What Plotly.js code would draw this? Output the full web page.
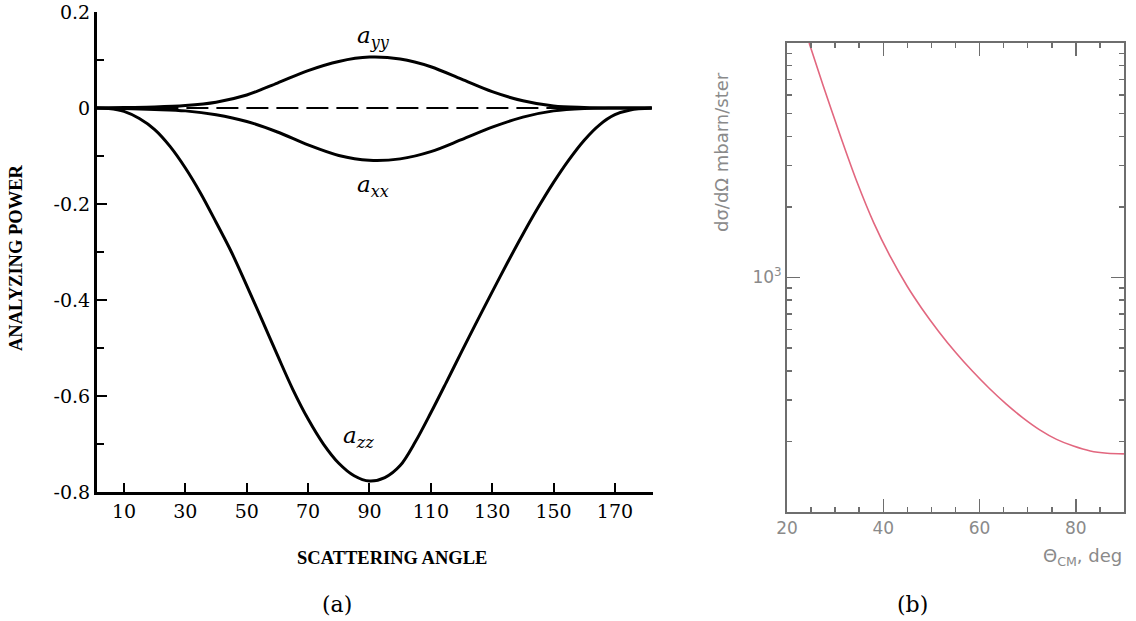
<!DOCTYPE html>
<html>
<head>
<meta charset="utf-8">
<script src="https://cdn.plot.ly/plotly-3.0.1.min.js"></script>
<style>html,body{margin:0;padding:0;background:#fff;}#chart{width:1136px;height:621px;}</style>
</head>
<body>
<div id="chart"></div>
<script>
// ---------- Panel (a): analyzing power vs scattering angle ----------
const angleA = [1, 10, 20, 30, 40, 50, 60, 70, 80, 90, 100, 110, 120, 130, 140, 150, 160, 170, 182];
const ayy    = [0, 0.001, 0.002, 0.005, 0.012, 0.027, 0.052, 0.078, 0.097, 0.106, 0.102, 0.086, 0.06, 0.034, 0.015, 0.004, 0.001, 0, 0];
const axx    = [0, -0.001, -0.003, -0.006, -0.014, -0.028, -0.05, -0.077, -0.099, -0.109, -0.106, -0.091, -0.066, -0.04, -0.019, -0.006, -0.001, 0, 0];

const angleZ = [1, 5, 10, 15, 20, 25, 30, 35, 40, 45, 50, 55, 60, 65, 70, 75, 80, 85, 90, 95, 100, 105, 110, 115, 120, 125, 130, 135, 140, 145, 150, 155, 160, 165, 170, 175, 182];
const azz    = [0, -0.001, -0.007, -0.022, -0.045, -0.08, -0.125, -0.178, -0.238, -0.3, -0.37, -0.442, -0.515, -0.586, -0.648, -0.7, -0.74, -0.766, -0.777, -0.77, -0.745, -0.695, -0.635, -0.572, -0.508, -0.445, -0.383, -0.322, -0.263, -0.207, -0.155, -0.108, -0.067, -0.035, -0.014, -0.004, 0];

const angleRef = [1, 160];
const refZero  = [0, 0];

const xTicksA     = [10, 30, 50, 70, 90, 110, 130, 150, 170];
const yTicksA     = [0.2, 0, -0.2, -0.4, -0.6, -0.8];
const yTickTextA  = ['0.2', '0', '-0.2', '-0.4', '-0.6', '-0.8'];
const yMinorA     = [0.1, -0.1, -0.3, -0.5, -0.7];

// ---------- Panel (b): cross section vs theta_cm ----------
const thetaB = [24.6, 27.5, 31, 34.5, 38, 41.5, 45, 48, 51.5, 55, 58.5, 62, 65.5, 69, 72.5, 76, 79.5, 83, 86.5, 90];
const sigmaB = [10000, 6590, 4062, 2567, 1715, 1223, 915, 738, 589, 480, 399, 337, 289, 252, 224, 204, 191, 182, 178, 177];

const xTicksB    = [20, 40, 60, 80];
const xMinorB    = [25, 30, 35, 45, 50, 55, 65, 70, 75, 85];
const yTicksB    = [1000];
const yTickTextB = ['10<sup>3</sup>'];
const yMinorB    = [200, 300, 400, 500, 600, 700, 800, 900, 2000, 3000, 4000, 5000, 6000, 7000, 8000, 9000];

const serif  = 'DejaVu Serif, serif';
const serif2 = 'Liberation Serif, Times New Roman, serif';
const sans   = 'DejaVu Sans, sans-serif';
const grey   = '#6e6e6e';

const traces = [
  {x: angleRef, y: refZero, mode: 'lines', line: {color: '#000', width: 2, dash: '22px,8px'}, xaxis: 'x', yaxis: 'y', hoverinfo: 'skip'},
  {x: angleA, y: ayy, mode: 'lines', line: {color: '#000', width: 3, shape: 'spline', smoothing: 0.9}, xaxis: 'x', yaxis: 'y', name: 'a_yy'},
  {x: angleA, y: axx, mode: 'lines', line: {color: '#000', width: 3, shape: 'spline', smoothing: 0.9}, xaxis: 'x', yaxis: 'y', name: 'a_xx'},
  {x: angleZ, y: azz, mode: 'lines', line: {color: '#000', width: 3, shape: 'spline', smoothing: 0.9}, xaxis: 'x', yaxis: 'y', name: 'a_zz'},
  {x: thetaB, y: sigmaB, mode: 'lines', line: {color: '#e2677f', width: 1.6, shape: 'spline', smoothing: 0.9}, xaxis: 'x2', yaxis: 'y2', name: 'dsigma'}
];

function note(x, y, text, font, extra) {
  return Object.assign({xref: 'paper', yref: 'paper', x: x / 1136, y: 1 - y / 621, text: text,
    showarrow: false, xanchor: 'center', yanchor: 'middle', font: font}, extra || {});
}

const layout = {
  width: 1136, height: 621,
  margin: {l: 0, r: 0, t: 0, b: 0},
  paper_bgcolor: '#fff', plot_bgcolor: '#fff',
  showlegend: false,
  xaxis: {
    domain: [0.0854, 0.5748], range: [1.2, 182.4], anchor: 'y',
    showline: true, linecolor: '#000', linewidth: 3,
    ticks: 'inside', ticklen: 9, tickwidth: 2, tickcolor: '#000',
    tickvals: xTicksA, ticktext: xTicksA.map(String),
    tickfont: {family: serif, size: 19, color: '#000'},
    showgrid: false, zeroline: false
  },
  yaxis: {
    domain: [0.2077, 0.9807], range: [-0.8, 0.2], anchor: 'x',
    showline: true, linecolor: '#000', linewidth: 3,
    ticks: 'inside', ticklen: 10, tickwidth: 2, tickcolor: '#000',
    tickvals: yTicksA, ticktext: yTickTextA,
    tickfont: {family: serif, size: 19, color: '#000'},
    minor: {tickvals: yMinorA, ticks: 'inside', ticklen: 7, tickwidth: 2, tickcolor: '#000', showgrid: false},
    showgrid: false, zeroline: false
  },
  xaxis2: {
    domain: [0.6928, 0.9894], range: [20, 90], anchor: 'y2',
    showline: true, mirror: 'ticks', linecolor: grey, linewidth: 2,
    ticks: 'inside', ticklen: 13, tickwidth: 1.5, tickcolor: grey,
    tickvals: xTicksB, ticktext: xTicksB.map(String),
    tickfont: {family: sans, size: 17, color: '#8a8a8a'},
    minor: {tickvals: xMinorB, ticks: 'inside', ticklen: 5, tickwidth: 1.5, tickcolor: grey, showgrid: false},
    showgrid: false, zeroline: false
  },
  yaxis2: {
    domain: [0.1755, 0.9308], type: 'log', range: [2, 4], anchor: 'x2',
    showline: true, mirror: 'ticks', linecolor: grey, linewidth: 2,
    ticks: 'inside', ticklen: 13, tickwidth: 1.5, tickcolor: grey,
    tickvals: yTicksB, ticktext: yTickTextB,
    tickfont: {family: sans, size: 17, color: '#8a8a8a'},
    minor: {tickvals: yMinorB, ticks: 'inside', ticklen: 5, tickwidth: 1.5, tickcolor: grey, showgrid: false},
    showgrid: false, zeroline: false
  },
  annotations: [
    note(373, 37, '<i>a</i><sub><i>yy</i></sub>', {family: serif, size: 23, color: '#000'}),
    note(373, 186, '<i>a</i><sub><i>xx</i></sub>', {family: serif, size: 23, color: '#000'}),
    note(358, 437, '<i>a</i><sub><i>zz</i></sub>', {family: serif, size: 23, color: '#000'}),
    note(392, 558, '<b>SCATTERING ANGLE</b>', {family: serif2, size: 18.5, color: '#000'}),
    note(16, 258, '<b>ANALYZING POWER</b>', {family: serif2, size: 18.5, color: '#000'}, {textangle: -90}),
    note(337, 604, '(a)', {family: serif, size: 22, color: '#000'}),
    note(912, 604, '(b)', {family: serif, size: 22, color: '#000'}),
    note(1124, 557, 'Θ<sub>CM</sub>, deg', {family: sans, size: 18, color: '#8a8a8a'}, {xanchor: 'right'}),
    note(722, 152, 'dσ/dΩ mbarn/ster', {family: sans, size: 18, color: '#8a8a8a'}, {textangle: -90})
  ]
};

Plotly.newPlot('chart', traces, layout, {staticPlot: true, displayModeBar: false});
</script>
</body>
</html>
